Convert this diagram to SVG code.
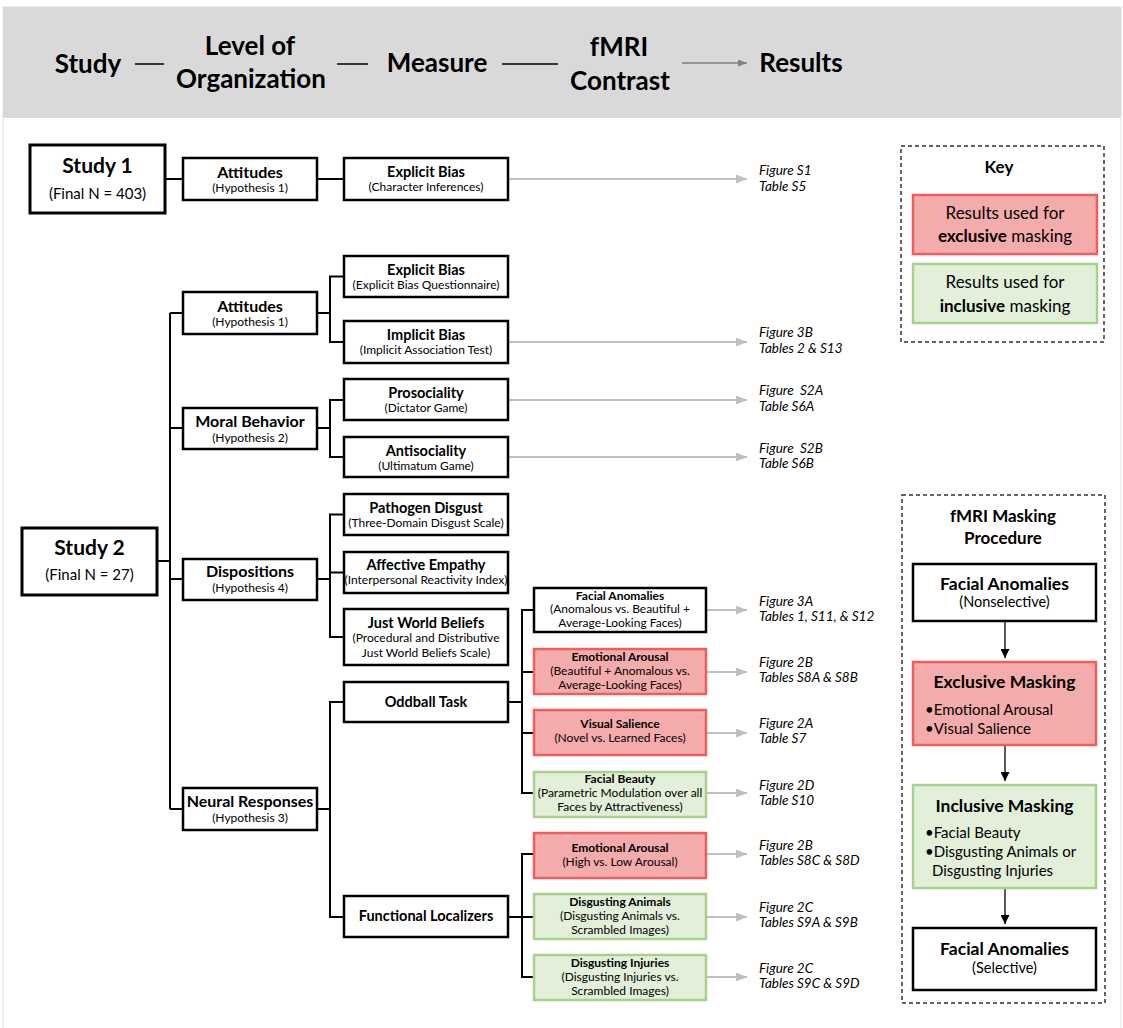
<svg xmlns="http://www.w3.org/2000/svg" width="1123" height="1028" viewBox="0 0 1123 1028">
<defs>
<marker id="ga" markerWidth="11" markerHeight="9" refX="11" refY="4.5" orient="auto" markerUnits="userSpaceOnUse"><path d="M0,0 L11,4.5 L0,9 Z" fill="#bfbfbf"/></marker>
<marker id="ha" markerWidth="9" markerHeight="7" refX="9" refY="3.5" orient="auto" markerUnits="userSpaceOnUse"><path d="M0,0 L9,3.5 L0,7 Z" fill="#7f7f7f"/></marker>
<marker id="ka" markerWidth="9" markerHeight="9" refX="9" refY="4.5" orient="auto" markerUnits="userSpaceOnUse"><path d="M0,0 L9,4.5 L0,9 Z" fill="#000"/></marker>
<style>
.t{font-family:Lato,"Open Sans","Liberation Sans",sans-serif;text-anchor:middle;fill:#000}
.l{font-family:Lato,"Open Sans","Liberation Sans",sans-serif;fill:#000}
.b{font-weight:bold}
.h{font-size:26px;font-weight:bold}
.box{fill:#fff;stroke:#000;stroke-width:2.5}
.sbox{fill:#fff;stroke:#000;stroke-width:3}
.red{fill:#f4abab;stroke:#ef5d5d;stroke-width:2.5}
.green{fill:#e2efd9;stroke:#a9d18e;stroke-width:2.5}
.lt{font-size:16px;font-weight:bold}
.ls{font-size:12px}
.mt{font-size:14.5px;font-weight:bold}
.ms{font-size:12px}
.ct{font-size:12px;font-weight:bold}
.cs{font-size:12px}
.ref{font-family:Lato,"Open Sans","Liberation Sans",sans-serif;font-style:italic;font-size:13.5px;fill:#000;white-space:pre}
#connectors line,#connectors path{stroke:#000;stroke-width:2;fill:none}
#connectors .res{stroke:#bfbfbf;stroke-width:2;marker-end:url(#ga)}
#connectors .mk{stroke:#000;stroke-width:1.3;marker-end:url(#ka)}
.dash{fill:none;stroke:#333;stroke-width:1.5;stroke-dasharray:4 3}
</style>
</defs>

<rect x="3" y="7" width="1118" height="1030" fill="#fff" stroke="#e2e2e2" stroke-width="1"/>

<g id="header">
<rect x="3" y="7" width="1118" height="111" fill="#d9d9d9"/>
<text class="t h" x="88" y="73">Study</text>
<text class="t h" x="250" y="55">Level of</text>
<text class="t h" x="251" y="88">Organization</text>
<text class="t h" x="437" y="72">Measure</text>
<text class="t h" x="619" y="56">fMRI</text>
<text class="t h" x="620" y="90">Contrast</text>
<text class="t h" x="801" y="72">Results</text>
<line x1="135" y1="64" x2="164" y2="64" stroke="#000" stroke-width="1.5"/>
<line x1="337" y1="64" x2="368" y2="64" stroke="#000" stroke-width="1.5"/>
<line x1="502" y1="64" x2="558" y2="64" stroke="#000" stroke-width="1.5"/>
<line x1="682" y1="63" x2="747" y2="63" stroke="#7f7f7f" stroke-width="1.5" marker-end="url(#ha)"/>
</g>

<g id="connectors">
<!-- study 1 -->
<line x1="165" y1="179" x2="183" y2="179"/>
<line x1="317" y1="179" x2="344" y2="179"/>
<line class="res" x1="508" y1="179" x2="747" y2="179"/>
<!-- study 2 trunk -->
<line x1="157" y1="561" x2="170" y2="561"/>
<line x1="170" y1="313" x2="170" y2="809"/>
<line x1="170" y1="313" x2="183" y2="313"/>
<line x1="170" y1="428" x2="183" y2="428"/>
<line x1="170" y1="579" x2="183" y2="579"/>
<line x1="170" y1="809" x2="183" y2="809"/>
<!-- attitudes -->
<line x1="317" y1="313" x2="330" y2="313"/>
<path d="M344,276.5 H330 V342 H344"/>
<!-- moral -->
<line x1="317" y1="428" x2="330" y2="428"/>
<path d="M344,400 H330 V457 H344"/>
<!-- dispositions -->
<line x1="317" y1="579" x2="330" y2="579"/>
<path d="M344,514.5 H330 V637 H344"/>
<line x1="330" y1="572.5" x2="344" y2="572.5"/>
<!-- neural -->
<line x1="317" y1="809" x2="330" y2="809"/>
<path d="M344,702 H330 V917 H344"/>
<!-- oddball -->
<line x1="508" y1="702" x2="522" y2="702"/>
<path d="M534,610 H522 V793 H534"/>
<line x1="522" y1="672" x2="534" y2="672"/>
<line x1="522" y1="733" x2="534" y2="733"/>
<!-- functional -->
<line x1="508" y1="917" x2="522" y2="917"/>
<path d="M534,854 H522 V977 H534"/>
<line x1="522" y1="917" x2="534" y2="917"/>
<!-- result arrows -->
<line class="res" x1="508" y1="342" x2="747" y2="342"/>
<line class="res" x1="508" y1="400" x2="747" y2="400"/>
<line class="res" x1="508" y1="457" x2="747" y2="457"/>
<line class="res" x1="706" y1="610" x2="747" y2="610"/>
<line class="res" x1="706" y1="672" x2="747" y2="672"/>
<line class="res" x1="706" y1="733" x2="747" y2="733"/>
<line class="res" x1="706" y1="793" x2="747" y2="793"/>
<line class="res" x1="706" y1="854" x2="747" y2="854"/>
<line class="res" x1="706" y1="917" x2="747" y2="917"/>
<line class="res" x1="706" y1="977" x2="747" y2="977"/>
<!-- masking arrows -->
<line class="mk" x1="1005" y1="621" x2="1005" y2="658"/>
<line class="mk" x1="1005" y1="745" x2="1005" y2="781"/>
<line class="mk" x1="1005" y1="888" x2="1005" y2="924"/>
</g>

<g id="study1">
<rect class="sbox" x="30" y="145" width="135" height="68"/>
<text class="t b" x="97.5" y="173" font-size="21">Study 1</text>
<text class="t" x="97.5" y="199" font-size="15">(Final N = 403)</text>
</g>
<g id="s1-attitudes">
<rect class="box" x="183" y="158" width="134" height="42"/>
<text class="t lt" x="250" y="178">Attitudes</text>
<text class="t ls" x="250" y="192">(Hypothesis 1)</text>
</g>
<g id="s1-explicit">
<rect class="box" x="344" y="158" width="164" height="42"/>
<text class="t mt" x="426" y="177">Explicit Bias</text>
<text class="t ms" x="426" y="191">(Character Inferences)</text>
</g>
<g id="r-s1"><text class="ref" x="759" y="175">Figure S1</text><text class="ref" x="759" y="191">Table S5</text></g>

<g id="study2">
<rect class="sbox" x="22" y="528" width="135" height="67"/>
<text class="t b" x="89.5" y="555" font-size="21">Study 2</text>
<text class="t" x="89.5" y="580" font-size="15">(Final N = 27)</text>
</g>

<g id="s2-attitudes">
<rect class="box" x="183" y="292" width="134" height="42"/>
<text class="t lt" x="250" y="312">Attitudes</text>
<text class="t ls" x="250" y="326">(Hypothesis 1)</text>
</g>
<g id="s2-moral">
<rect class="box" x="183" y="408" width="134" height="41"/>
<text class="t lt" x="250" y="427">Moral Behavior</text>
<text class="t ls" x="250" y="442">(Hypothesis 2)</text>
</g>
<g id="s2-dispositions">
<rect class="box" x="183" y="559" width="134" height="41"/>
<text class="t lt" x="250" y="577">Dispositions</text>
<text class="t ls" x="250" y="592">(Hypothesis 4)</text>
</g>
<g id="s2-neural">
<rect class="box" x="183" y="788" width="134" height="42"/>
<text class="t lt" x="250" y="807">Neural Responses</text>
<text class="t ls" x="250" y="822">(Hypothesis 3)</text>
</g>

<g id="m-explicit">
<rect class="box" x="344" y="256" width="164" height="41"/>
<text class="t mt" x="426" y="275">Explicit Bias</text>
<text class="t ms" x="426" y="289">(Explicit Bias Questionnaire)</text>
</g>
<g id="m-implicit">
<rect class="box" x="344" y="321" width="164" height="42"/>
<text class="t mt" x="426" y="340">Implicit Bias</text>
<text class="t ms" x="426" y="354">(Implicit Association Test)</text>
</g>
<g id="m-prosocial">
<rect class="box" x="344" y="379" width="164" height="41"/>
<text class="t mt" x="426" y="398">Prosociality</text>
<text class="t ms" x="426" y="412">(Dictator Game)</text>
</g>
<g id="m-antisocial">
<rect class="box" x="344" y="437" width="164" height="40"/>
<text class="t mt" x="426" y="456">Antisociality</text>
<text class="t ms" x="426" y="470">(Ultimatum Game)</text>
</g>
<g id="m-pathogen">
<rect class="box" x="344" y="494" width="164" height="41"/>
<text class="t mt" x="426" y="513">Pathogen Disgust</text>
<text class="t ms" x="426" y="527">(Three-Domain Disgust Scale)</text>
</g>
<g id="m-empathy">
<rect class="box" x="344" y="552" width="164" height="41"/>
<text class="t mt" x="426" y="570">Affective Empathy</text>
<text class="t ms" x="426" y="584">(Interpersonal Reactivity Index)</text>
</g>
<g id="m-justworld">
<rect class="box" x="344" y="609" width="164" height="56"/>
<text class="t mt" x="426" y="628">Just World Beliefs</text>
<text class="t ms" x="426" y="642">(Procedural and Distributive</text>
<text class="t ms" x="426" y="657">Just World Beliefs Scale)</text>
</g>
<g id="m-oddball">
<rect class="box" x="344" y="682" width="164" height="40"/>
<text class="t mt" x="426" y="707">Oddball Task</text>
</g>
<g id="m-functional">
<rect class="box" x="344" y="896" width="164" height="41"/>
<text class="t mt" x="426" y="921">Functional Localizers</text>
</g>

<g id="c-anomalies">
<rect class="box" x="534" y="588" width="172" height="44"/>
<text class="t ct" x="620" y="600">Facial Anomalies</text>
<text class="t cs" x="620" y="613">(Anomalous vs. Beautiful +</text>
<text class="t cs" x="620" y="627">Average-Looking Faces)</text>
</g>
<g id="c-arousal1">
<rect class="red" x="534" y="649" width="172" height="45"/>
<text class="t ct" x="620" y="661">Emotional Arousal</text>
<text class="t cs" x="620" y="675">(Beautiful + Anomalous vs.</text>
<text class="t cs" x="620" y="689">Average-Looking Faces)</text>
</g>
<g id="c-salience">
<rect class="red" x="534" y="710" width="172" height="45"/>
<text class="t ct" x="620" y="728">Visual Salience</text>
<text class="t cs" x="620" y="742">(Novel vs. Learned Faces)</text>
</g>
<g id="c-beauty">
<rect class="green" x="534" y="772" width="172" height="45"/>
<text class="t ct" x="620" y="783">Facial Beauty</text>
<text class="t cs" x="620" y="797">(Parametric Modulation over all</text>
<text class="t cs" x="620" y="811">Faces by Attractiveness)</text>
</g>
<g id="c-arousal2">
<rect class="red" x="534" y="833" width="172" height="45"/>
<text class="t ct" x="620" y="852">Emotional Arousal</text>
<text class="t cs" x="620" y="866">(High vs. Low Arousal)</text>
</g>
<g id="c-animals">
<rect class="green" x="534" y="894" width="172" height="45"/>
<text class="t ct" x="620" y="906">Disgusting Animals</text>
<text class="t cs" x="620" y="920">(Disgusting Animals vs.</text>
<text class="t cs" x="620" y="934">Scrambled Images)</text>
</g>
<g id="c-injuries">
<rect class="green" x="534" y="955" width="172" height="45"/>
<text class="t ct" x="620" y="967">Disgusting Injuries</text>
<text class="t cs" x="620" y="981">(Disgusting Injuries vs.</text>
<text class="t cs" x="620" y="995">Scrambled Images)</text>
</g>

<g id="results">
<text class="ref" x="759" y="337">Figure 3B</text><text class="ref" x="759" y="353">Tables 2 &amp; S13</text>
<text class="ref" x="759" y="395">Figure  S2A</text><text class="ref" x="759" y="411">Table S6A</text>
<text class="ref" x="759" y="453">Figure  S2B</text><text class="ref" x="759" y="468">Table S6B</text>
<text class="ref" x="759" y="606">Figure 3A</text><text class="ref" x="759" y="621">Tables 1, S11, &amp; S12</text>
<text class="ref" x="759" y="667">Figure 2B</text><text class="ref" x="759" y="682">Tables S8A &amp; S8B</text>
<text class="ref" x="759" y="728">Figure 2A</text><text class="ref" x="759" y="743">Table S7</text>
<text class="ref" x="759" y="790">Figure 2D</text><text class="ref" x="759" y="805">Table S10</text>
<text class="ref" x="759" y="850">Figure 2B</text><text class="ref" x="759" y="865">Tables S8C &amp; S8D</text>
<text class="ref" x="759" y="912">Figure 2C</text><text class="ref" x="759" y="927">Tables S9A &amp; S9B</text>
<text class="ref" x="759" y="973">Figure 2C</text><text class="ref" x="759" y="988">Tables S9C &amp; S9D</text>
</g>

<g id="key">
<rect class="dash" x="901" y="146" width="203" height="196"/>
<text class="t b" x="999" y="173" font-size="17">Key</text>
<rect class="red" x="913" y="195" width="184" height="59" stroke-width="3"/>
<text class="t" x="1005" y="219" font-size="17">Results used for</text>
<text class="t" x="1005" y="242" font-size="17"><tspan font-weight="bold">exclusive</tspan> masking</text>
<rect class="green" x="913" y="264" width="184" height="59" stroke-width="3"/>
<text class="t" x="1005" y="288" font-size="17">Results used for</text>
<text class="t" x="1005" y="312" font-size="17"><tspan font-weight="bold">inclusive</tspan> masking</text>
</g>

<g id="masking">
<rect class="dash" x="902" y="495" width="203" height="508"/>
<text class="t b" x="1003" y="522" font-size="17">fMRI Masking</text>
<text class="t b" x="1003" y="544" font-size="17">Procedure</text>
</g>
<g id="mask-nonselective">
<rect class="box" x="913" y="564" width="183" height="57"/>
<text class="t b" x="1004.5" y="590" font-size="17.5">Facial Anomalies</text>
<text class="t" x="1004.5" y="607" font-size="14.5">(Nonselective)</text>
</g>
<g id="mask-exclusive">
<rect class="red" x="913" y="662" width="183" height="83"/>
<text class="t b" x="1004.5" y="688" font-size="17.5">Exclusive Masking</text>
<text class="l" x="925" y="715" font-size="15">•Emotional Arousal</text>
<text class="l" x="925" y="734" font-size="15">•Visual Salience</text>
</g>
<g id="mask-inclusive">
<rect class="green" x="913" y="785" width="183" height="103"/>
<text class="t b" x="1004.5" y="812" font-size="17.5">Inclusive Masking</text>
<text class="l" x="925" y="838" font-size="15">•Facial Beauty</text>
<text class="l" x="925" y="857" font-size="15">•Disgusting Animals or</text>
<text class="l" x="932" y="876" font-size="15">Disgusting Injuries</text>
</g>
<g id="mask-selective">
<rect class="box" x="913" y="928" width="183" height="62"/>
<text class="t b" x="1004.5" y="955" font-size="17.5">Facial Anomalies</text>
<text class="t" x="1004.5" y="973" font-size="14.5">(Selective)</text>
</g>
</svg>
